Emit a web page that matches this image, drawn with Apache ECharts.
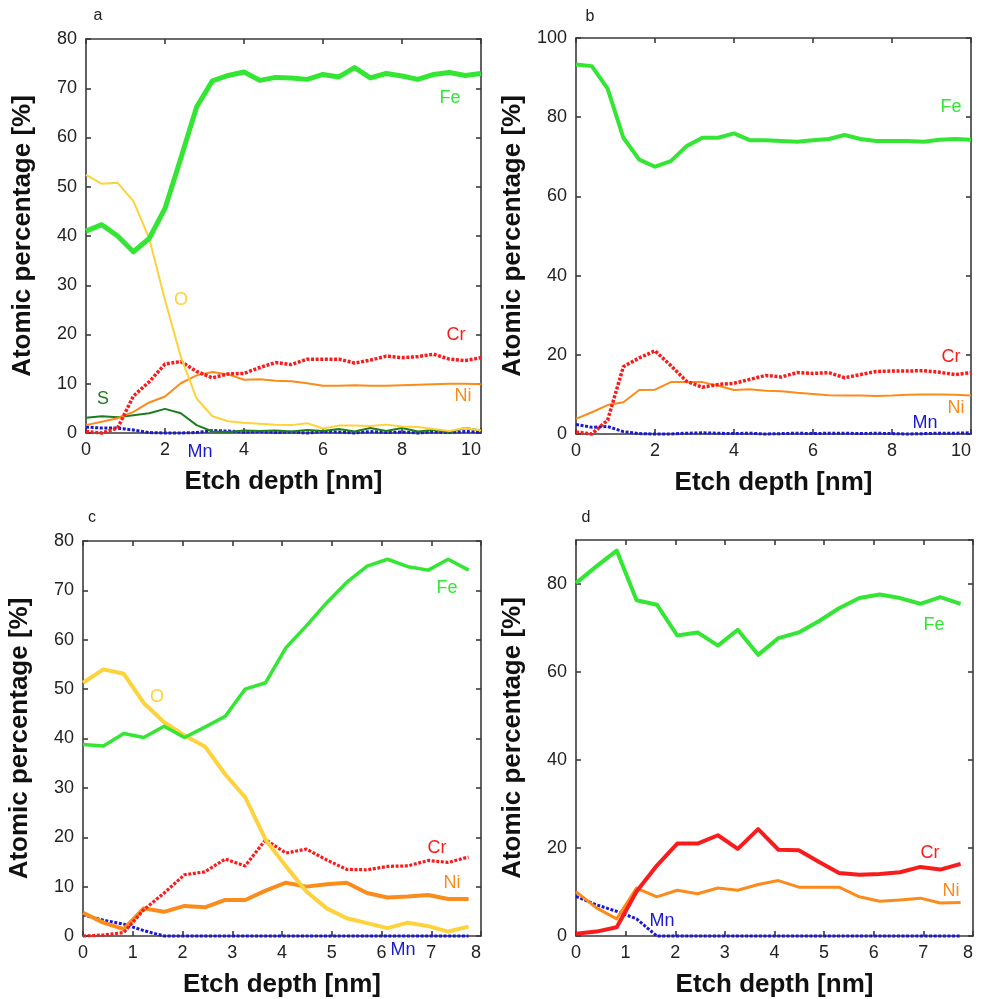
<!DOCTYPE html>
<html><head><meta charset="utf-8">
<script src="https://cdn.jsdelivr.net/npm/echarts@6/dist/echarts.min.js"></script>
<style>html,body{margin:0;padding:0;background:#fff}#c{width:985px;height:999px}</style>
</head><body><div id="c"></div>
<script>
// ---- data ----
const depthAB = [0,0.4,0.8,1.2,1.6,2.0,2.4,2.8,3.2,3.6,4.0,4.4,4.8,5.2,5.6,6.0,6.4,6.8,7.2,7.6,8.0,8.4,8.8,9.2,9.6,10.0];
const depthCD = [0,0.41,0.82,1.22,1.63,2.04,2.45,2.86,3.26,3.67,4.08,4.49,4.9,5.3,5.71,6.12,6.53,6.94,7.34,7.75];

const feA = [41,42.3,40,36.8,39.5,45.6,55.8,66.2,71.5,72.6,73.3,71.6,72.2,72.1,71.8,72.8,72.3,74.2,72.1,73,72.5,71.8,72.8,73.2,72.6,73];
const oA  = [52.4,50.6,50.8,47.1,39.5,27,15.5,7,3.4,2.4,2.1,1.9,1.7,1.6,2.0,0.9,1.5,1.5,1.4,1.7,1.3,1.2,0.8,0.4,1.0,0.5];
const crA = [0.3,0,1,7.5,10.4,14,14.5,12.5,11.2,12,12.1,13.3,14.3,13.9,15,15,15,14.2,14.8,15.6,15.3,15.5,16,15,14.7,15.3];
const niA = [1.6,2.3,3.0,4.3,6.2,7.4,10.1,11.7,12.4,11.9,10.8,10.9,10.6,10.5,10.1,9.6,9.6,9.7,9.6,9.6,9.7,9.8,9.9,10.0,10.0,9.9];
const sA  = [3.1,3.4,3.2,3.6,4.0,4.9,4.0,1.6,0.3,0.2,0.5,0.4,0.5,0.3,0.6,0.4,0.8,0.3,1.0,0.4,1.0,0.3,0.6,0.2,1.0,0.5];
const mnA = [1.2,1.0,1.0,0.6,0.1,0,0,0.1,0.5,0.4,0.2,0.3,0.1,0.2,0,0.3,0.2,0,0.3,0.1,0.2,0,0.2,0.1,0.3,0.2];

const feB = [93.3,92.9,87.2,74.8,69.3,67.5,68.9,72.7,74.8,74.8,75.9,74.2,74.2,74,73.8,74.2,74.5,75.5,74.5,74,74,74,73.8,74.3,74.5,74.3];
const crB = [0.5,0,3.5,17,19.2,21,17.3,13.3,11.8,12.5,12.8,13.8,14.8,14.4,15.5,15.3,15.5,14.2,15,15.8,15.9,15.9,16,15.6,15,15.5];
const niB = [3.8,5.5,7.3,8.0,11.1,11.2,13.1,13.1,13.1,12.2,11.1,11.3,10.9,10.8,10.4,10.1,9.8,9.7,9.7,9.6,9.7,9.9,10.0,10.0,9.9,9.7];
const mnB = [2.4,1.7,1.9,0.6,0.1,0,0,0.2,0.3,0.2,0.1,0.2,0,0.1,0.2,0.1,0.2,0.2,0.1,0.2,0.1,0,0.1,0.2,0.2,0.3];

const feC = [38.8,38.5,41,40.2,42.5,40.2,42.3,44.5,50,51.3,58.4,62.8,67.5,71.6,74.9,76.3,74.8,74.1,76.3,74.1];
const oC  = [51.3,54,53.1,47.2,43.3,40.6,38.4,32.7,28.1,19.5,14.1,9,5.6,3.6,2.6,1.6,2.7,2.0,0.9,1.9];
const crC = [0,0.2,0.7,5.3,8.7,12.4,13.0,15.6,14.2,19.5,16.8,17.6,15.4,13.5,13.4,14.1,14.2,15.3,14.9,16.0];
const niC = [4.7,2.7,1.4,5.6,4.9,6.1,5.8,7.3,7.3,9.2,10.8,10.0,10.5,10.8,8.7,7.8,8.0,8.3,7.5,7.5];
const mnC = [4.3,3.2,2.4,1.1,0,0,0,0,0,0,0,0,0,0,0,0,0,0,0,0];

const feD = [80.2,84,87.6,76.3,75.3,68.3,69,66,69.6,63.9,67.7,69,71.6,74.5,76.8,77.6,76.8,75.5,77,75.5];
const crD = [0.5,1,2,10.1,16,21,21,22.9,19.8,24.3,19.6,19.5,16.8,14.3,13.9,14.1,14.5,15.7,15.1,16.4];
const niD = [10.1,6.4,3.9,10.9,8.9,10.4,9.6,10.9,10.4,11.7,12.6,11.1,11.1,11.1,8.9,7.9,8.2,8.6,7.5,7.6];
const mnD = [9,7.1,5.6,3.9,0,0,0,0,0,0,0,0,0,0,0,0,0,0,0,0];

const xTitle = 'Etch depth [nm]';
const yTitle = 'Atomic percentage [%]';

// ---- styling ----
const FONT = 'Liberation Sans, Arial, sans-serif';
const C = {Fe:'#33e633', O:'#fdd23a', Cr:'#f81c1c', Ni:'#fb8c1c', S:'#1d7d1d', Mn:'#1a1acc'};
const AX = '#3a3a3a';

const grids = [
  {left:86, top:39, width:395, height:394},
  {left:576, top:38, width:395, height:396},
  {left:83, top:541, width:398, height:395},
  {left:576, top:540, width:397, height:396}
];
const xCfg = [{max:10,interval:2},{max:10,interval:2},{max:8,interval:1},{max:8,interval:1}];
const yCfg = [{max:80,interval:10},{max:100,interval:20},{max:80,interval:10},{max:90,interval:20}];

const xAxis = [], yAxis = [];
grids.forEach((g,i)=>{
  const base = {gridIndex:i, type:'value', min:0, splitLine:{show:false},
    axisLine:{show:true, onZero:false, lineStyle:{color:AX, width:1.6}},
    axisTick:{show:true, inside:true, length:5, lineStyle:{color:AX, width:1.6}}};
  xAxis.push(Object.assign({}, base, xCfg[i], {position:'bottom',
    axisLabel:{show:true, fontSize:18, color:'#222', fontFamily:FONT, margin:8, alignMaxLabel:'right'},
    name:xTitle, nameLocation:'middle', nameGap:36,
    nameTextStyle:{fontSize:26, fontWeight:'bold', color:'#111', fontFamily:FONT}}));
  xAxis.push(Object.assign({}, base, xCfg[i], {position:'top', axisLabel:{show:false}}));
  yAxis.push(Object.assign({}, base, yCfg[i], {position:'left',
    axisLabel:{show:true, fontSize:18, color:'#222', fontFamily:FONT, margin:9, showMaxLabel: i!==3},
    name:yTitle, nameLocation:'middle', nameGap:50,
    nameTextStyle:{fontSize:26, fontWeight:'bold', color:'#111', fontFamily:FONT}}));
  yAxis.push(Object.assign({}, base, yCfg[i], {position:'right', axisLabel:{show:false}}));
});

function line(g, xs, ys, color, width, dash){
  return {type:'line', xAxisIndex:g*2, yAxisIndex:g*2, symbol:'none', animation:false,
    data: xs.map((x,i)=>[x, ys[i]]), clip:false,
    lineStyle:{color:color, width:width, type: dash || 'solid', cap:'butt', join:'round'}};
}
const DOT = [3,1.6];
const series = [
  line(0, depthAB, mnA, C.Mn, 3, DOT),
  line(0, depthAB, sA, C.S, 2),
  line(0, depthAB, niA, C.Ni, 2),
  line(0, depthAB, crA, C.Cr, 3.5, DOT),
  line(0, depthAB, oA, C.O, 2),
  line(0, depthAB, feA, C.Fe, 5),

  line(1, depthAB, mnB, C.Mn, 3, DOT),
  line(1, depthAB, niB, C.Ni, 2),
  line(1, depthAB, crB, C.Cr, 3.5, DOT),
  line(1, depthAB, feB, C.Fe, 4),

  line(2, depthCD, mnC, C.Mn, 3, DOT),
  line(2, depthCD, niC, C.Ni, 4),
  line(2, depthCD, crC, C.Cr, 3.2, DOT),
  line(2, depthCD, oC, C.O, 4),
  line(2, depthCD, feC, C.Fe, 3.5),

  line(3, depthCD, mnD, C.Mn, 3, DOT),
  line(3, depthCD, niD, C.Ni, 3),
  line(3, depthCD, crD, C.Cr, 4),
  line(3, depthCD, feD, C.Fe, 4)
];

function txt(s, x, y, color, size){
  return {type:'text', x:x, y:y, z:100,
    style:{text:s, fill:color, font:(size||18)+'px '+FONT, textAlign:'center', textVerticalAlign:'middle', align:'center', verticalAlign:'middle'}};
}
const graphic = [
  txt('a', 98, 16, '#222', 16), txt('b', 590, 17, '#222', 16),
  txt('c', 92, 518, '#222', 16), txt('d', 586, 518, '#222', 16),
  txt('Fe', 450, 98, C.Fe), txt('O', 181, 300, C.O), txt('Cr', 456, 335, C.Cr),
  txt('Ni', 463, 396, C.Ni), txt('S', 103, 399, C.S), txt('Mn', 200, 452, C.Mn),
  txt('Fe', 951, 107, C.Fe), txt('Cr', 951, 357, C.Cr), txt('Ni', 956, 408, C.Ni), txt('Mn', 925, 423, C.Mn),
  txt('O', 157, 697, C.O), txt('Fe', 447, 588, C.Fe), txt('Cr', 437, 848, C.Cr), txt('Ni', 452, 883, C.Ni), txt('Mn', 403, 950, C.Mn),
  txt('Fe', 934, 625, C.Fe), txt('Cr', 930, 853, C.Cr), txt('Ni', 951, 891, C.Ni), txt('Mn', 662, 921, C.Mn)
];

const chart = echarts.init(document.getElementById('c'), null, {renderer:'canvas'});
chart.setOption({animation:false, backgroundColor:'#fff', textStyle:{fontFamily:FONT},
  grid: grids, xAxis: xAxis, yAxis: yAxis, series: series, graphic: graphic});
</script></body></html>
